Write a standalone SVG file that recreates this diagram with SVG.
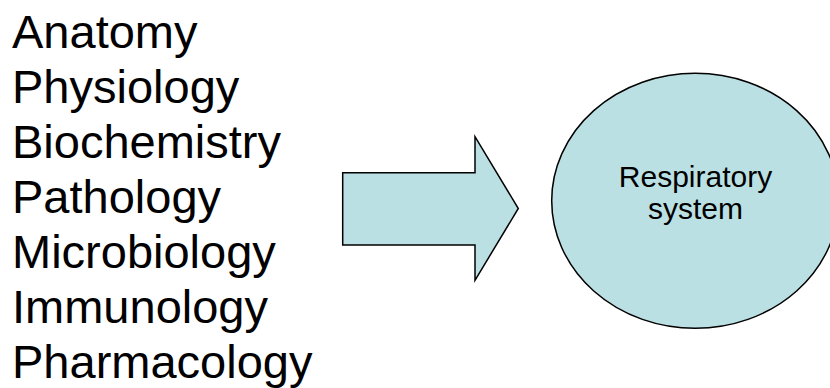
<svg xmlns="http://www.w3.org/2000/svg" width="830" height="388" viewBox="0 0 830 388">
<style>
.subj{font-family:"Liberation Sans",Arial,sans-serif;font-size:47px;fill:#000}
.lbl{font-family:"Liberation Sans",Arial,sans-serif;font-size:30px;fill:#000;text-anchor:middle}
.shape{fill:#BBE0E3;stroke:#000;stroke-width:1.5}
</style>
<rect width="830" height="388" fill="#fff"/>
<g id="subjects">
<text class="subj" x="12" y="47.5">Anatomy</text>
<text class="subj" x="12" y="102.5">Physiology</text>
<text class="subj" x="12" y="157.5">Biochemistry</text>
<text class="subj" x="12" y="212.5">Pathology</text>
<text class="subj" x="12" y="267.5">Microbiology</text>
<text class="subj" x="12" y="322.5">Immunology</text>
<text class="subj" x="12" y="377.5">Pharmacology</text>
</g>
<g id="connectors">
<path id="arrow" class="shape" stroke-width="2" d="M342.7,172.7 H475 V136.7 L518.3,208.5 L475,280.3 V245 H342.7 Z"/>
</g>
<g id="respiratory-system">
<ellipse class="shape" cx="695.2" cy="200.8" rx="143.5" ry="127.5"/>
<text class="lbl" x="695.5" y="186.5">Respiratory</text>
<text class="lbl" x="695.5" y="219">system</text>
</g>
</svg>
